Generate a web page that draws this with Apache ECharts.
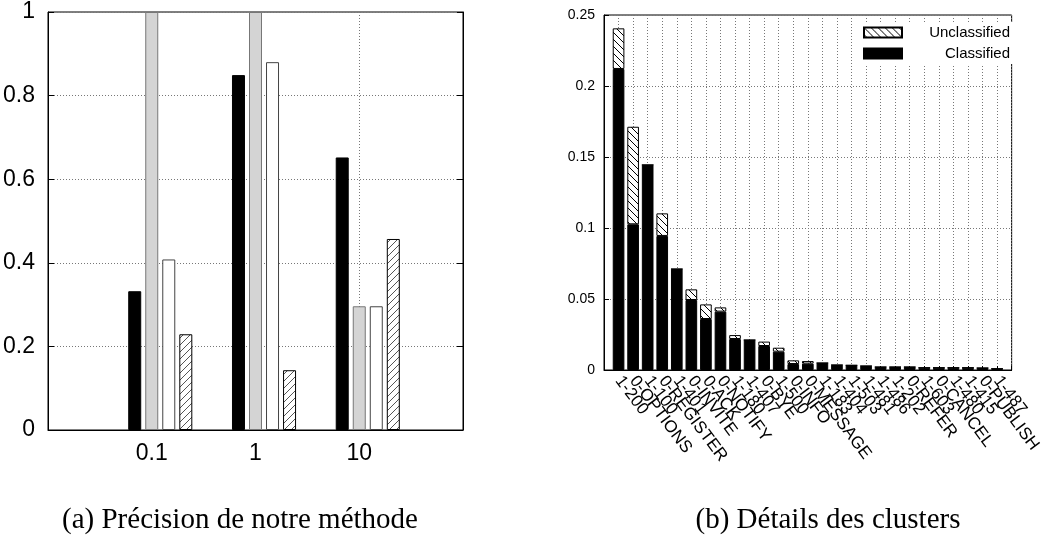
<!DOCTYPE html>
<html>
<head>
<meta charset="utf-8">
<script src="https://cdn.jsdelivr.net/npm/echarts@6/dist/echarts.min.js"></script>
<style>
  html, body { margin: 0; padding: 0; background: #fff; }
  #chart { width: 1044px; height: 546px; }
</style>
</head>
<body>
<div id="chart"></div>
<script>
// (a) précision : 4 barres par valeur du paramètre
const precisionGroups = ['0.1', '1', '10']
const blackBars = [0.332, 0.849, 0.652]
const grayBars = [1.0, 1.0, 0.296]
const whiteBars = [0.408, 0.880, 0.296]
const hatchBars = [0.229, 0.143, 0.457]
const precisionTicks = [0, 0.2, 0.4, 0.6, 0.8, 1]

// (b) détails des clusters
const clusterNames = [
  '1-200', '0-OPTIONS', '1-100', '0-REGISTER', '1-401', '0-INVITE', '0-ACK',
  '0-NOTIFY', '1-180', '1-407', '0-BYE', '1-500', '0-INFO', '0-MESSAGE',
  '1-183', '1-404', '1-503', '1-481', '1-486', '1-202', '0-REFER', '1-603',
  '0-CANCEL', '1-480', '1-415', '0-PUBLISH', '1-487'
]
const classified = [
  0.212, 0.1026, 0.1444, 0.0944, 0.0711, 0.0493, 0.0359, 0.0411, 0.0218,
  0.0211, 0.0169, 0.0129, 0.0042, 0.0045, 0.0049, 0.0035, 0.0033, 0.0028,
  0.0021, 0.0021, 0.0021, 0.0016, 0.0016, 0.0016, 0.0016, 0.0014, 0.0009
]
const unclassified = [
  0.0286, 0.0687, 0, 0.0159, 0, 0.0075, 0.0103, 0.003, 0.0028,
  0, 0.0031, 0.0028, 0.0026, 0.0018, 0, 0, 0,
  0, 0, 0, 0, 0, 0, 0, 0, 0, 0
]

const sansNarrow = '"Liberation Sans Narrow", "Liberation Sans", Arial, sans-serif'
const sans = '"Liberation Sans", Arial, sans-serif'
const captionFont = '29px "Liberation Serif", serif'

// petits motifs hachurés
function hatch(size, dir, stroke) {
  const c = document.createElement('canvas')
  c.width = c.height = size
  const ctx = c.getContext('2d')
  ctx.fillStyle = '#fff'
  ctx.fillRect(0, 0, size, size)
  ctx.strokeStyle = stroke
  ctx.lineWidth = 1
  ctx.beginPath()
  if (dir === '/') {
    ctx.moveTo(-1, size + 1); ctx.lineTo(size + 1, -1)
  } else {
    ctx.moveTo(-1, -1); ctx.lineTo(size + 1, size + 1)
  }
  ctx.stroke()
  return c
}

// une catégorie vide de chaque côté (axes de -1 à n)
const padNames = arr => ['', ...arr, '']
const padData = arr => ['-', ...arr, '-']
const dotted = { show: true, lineStyle: { color: '#777', type: [1, 2], width: 1 } }

const chart = echarts.init(document.getElementById('chart'))

const leftBar = (data, color, border) => ({
  type: 'bar',
  xAxisIndex: 0,
  yAxisIndex: 0,
  data: padData(data),
  barWidth: 13,
  barGap: '31%',
  silent: true,
  itemStyle: { color, borderColor: border, borderWidth: 1 }
})

chart.setOption({
  animation: false,
  textStyle: { fontFamily: sans, color: '#000' },
  grid: [
    { left: 48, right: 581, top: 12, bottom: 116, show: true, borderColor: '#000', borderWidth: 1 },
    { left: 604, right: 25, top: 15, bottom: 176, show: true, borderColor: '#000', borderWidth: 1 }
  ],
  legend: {
    data: ['Unclassified', 'Classified'],
    orient: 'vertical',
    right: 30,
    top: 22,
    itemWidth: 38,
    itemHeight: 10,
    itemGap: 6,
    padding: [3, 4, 3, 4],
    backgroundColor: '#fff',
    icon: 'rect',
    formatter: '{r|{name}}',
    textStyle: {
      rich: { r: { width: 103, align: 'right', fontSize: 15, lineHeight: 14, fontFamily: sans, color: '#000' } }
    }
  },
  xAxis: [
    {
      gridIndex: 0,
      type: 'category',
      data: padNames(precisionGroups),
      boundaryGap: false,
      axisLine: { lineStyle: { color: '#000' } },
      axisTick: { inside: true, length: 5, lineStyle: { color: '#000' } },
      axisLabel: { fontSize: 23, fontFamily: sansNarrow, color: '#000', margin: 12 },
      splitLine: dotted
    },
    {
      gridIndex: 1,
      type: 'category',
      data: padNames(clusterNames),
      boundaryGap: false,
      axisLine: { lineStyle: { color: '#000' } },
      axisTick: { inside: true, length: 4, interval: 0, lineStyle: { color: '#000' } },
      axisLabel: { interval: 0, rotate: -53, fontSize: 17, color: '#000', margin: 8 },
      splitLine: Object.assign({ interval: 0 }, dotted)
    }
  ],
  yAxis: [
    {
      gridIndex: 0,
      type: 'value',
      min: 0,
      max: 1,
      interval: 0.2,
      axisLine: { show: true, lineStyle: { color: '#000' } },
      axisTick: { show: true, inside: true, length: 6, lineStyle: { color: '#000' } },
      axisLabel: {
        fontSize: 23, fontFamily: sansNarrow, color: '#000', margin: 13,
        formatter: v => (precisionTicks.includes(Math.round(v * 10) / 10) ? String(Math.round(v * 10) / 10) : '')
      },
      splitLine: dotted
    },
    {
      gridIndex: 0,
      type: 'value',
      position: 'right',
      min: 0,
      max: 1,
      interval: 0.2,
      axisLine: { show: true, lineStyle: { color: '#000' } },
      axisTick: { show: true, inside: true, length: 6, lineStyle: { color: '#000' } },
      axisLabel: { show: false },
      splitLine: { show: false }
    },
    {
      gridIndex: 1,
      type: 'value',
      min: 0,
      max: 0.25,
      interval: 0.05,
      axisLine: { show: true, lineStyle: { color: '#000' } },
      axisTick: { show: true, inside: true, length: 5, lineStyle: { color: '#000' } },
      axisLabel: { fontSize: 14, color: '#000', margin: 9 },
      splitLine: dotted
    }
  ],
  series: [
    // place vide : décale le groupe pour que la barre grise tombe sur la graduation
    leftBar([0, 0, 0].map(() => '-'), 'transparent', 'transparent'),
    leftBar(blackBars, '#000', '#000'),
    leftBar(grayBars, '#d4d4d4', '#777'),
    leftBar(whiteBars, '#fff', '#444'),
    leftBar(hatchBars, { image: hatch(7, '/', '#555'), repeat: 'repeat' }, '#000'),
    {
      name: 'Classified',
      type: 'bar',
      xAxisIndex: 1,
      yAxisIndex: 2,
      stack: 'clusters',
      data: padData(classified),
      barWidth: '80%',
      silent: true,
      itemStyle: { color: '#000', borderColor: '#000', borderWidth: 1 }
    },
    {
      name: 'Unclassified',
      type: 'bar',
      xAxisIndex: 1,
      yAxisIndex: 2,
      stack: 'clusters',
      data: padData(unclassified),
      barWidth: '80%',
      silent: true,
      itemStyle: { color: { image: hatch(7, '\\', '#000'), repeat: 'repeat' }, borderColor: '#000', borderWidth: 1 }
    }
  ],
  graphic: [
    {
      type: 'text',
      style: { text: '(a) Précision de notre méthode', x: 240, y: 520, textAlign: 'center', textVerticalAlign: 'middle', font: captionFont, fill: '#000' }
    },
    {
      type: 'text',
      style: { text: '(b) Détails des clusters', x: 828, y: 520, textAlign: 'center', textVerticalAlign: 'middle', font: captionFont, fill: '#000' }
    }
  ]
})
</script>
</body>
</html>
